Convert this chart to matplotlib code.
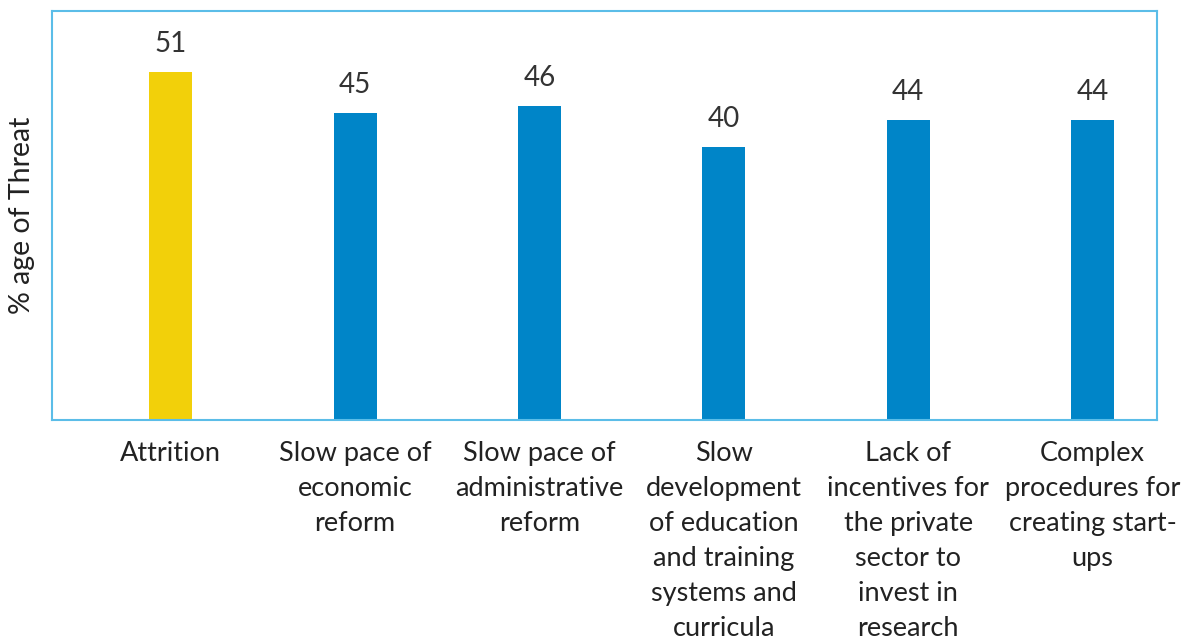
import matplotlib.pyplot as plt

categories = [
    'Attrition',
    'Slow pace of\neconomic\nreform',
    'Slow pace of\nadministrative\nreform',
    'Slow\ndevelopment\nof education\nand training\nsystems and\ncurricula',
    'Lack of\nincentives for\nthe private\nsector to\ninvest in\nresearch',
    'Complex\nprocedures for\ncreating start-\nups',
]
values = [51, 45, 46, 40, 44, 44]
colors = ['#F2D00A', '#0085C8', '#0085C8', '#0085C8', '#0085C8', '#0085C8']

plt.rcParams['font.family'] = ['Lato', 'DejaVu Sans']

fig = plt.figure(figsize=(11.89, 6.39), dpi=100)
ax = fig.add_axes([0.0437, 0.3427, 0.9293, 0.6403])

x = list(range(len(categories)))
ax.bar(x, values, width=0.233, color=colors)

for xi, v in zip(x, values):
    ax.text(xi, v + 2.2, str(v), ha='center', va='bottom', fontsize=20, color='#333333')

ax.set_xlim(-0.645, 5.35)
ax.set_ylim(0, 60)
ax.set_xticks(x)
ax.set_xticklabels(categories, fontsize=19.5, color='#222222', linespacing=1.5)
ax.tick_params(axis='x', length=0, pad=15)
ax.set_yticks([])
ax.set_ylabel('% age of Threat', fontsize=20.5, color='#222222', labelpad=12)

for s in ax.spines.values():
    s.set_color('#5BBDE8')
    s.set_linewidth(1.5)

plt.savefig('out.png')
